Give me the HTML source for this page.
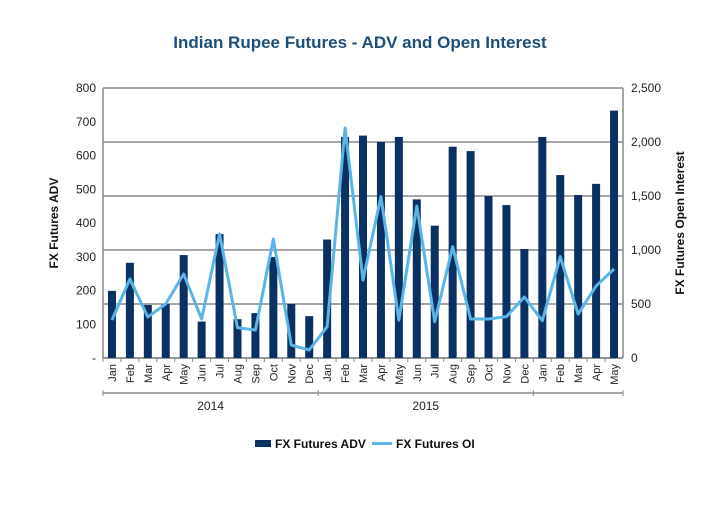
<!DOCTYPE html>
<html><head><meta charset="utf-8"><style>
body{margin:0;background:#fff;font-family:"Liberation Sans",sans-serif}
</style></head><body>
<svg id="c" width="720" height="500" xmlns="http://www.w3.org/2000/svg" font-family="Liberation Sans, sans-serif">
<text x="360" y="48" text-anchor="middle" font-size="17" font-weight="bold" fill="#1f4e79">Indian Rupee Futures - ADV and Open Interest</text>
<g id="g"></g>
</svg>
<script>
const months=["Jan","Feb","Mar","Apr","May","Jun","Jul","Aug","Sep","Oct","Nov","Dec","Jan","Feb","Mar","Apr","May","Jun","Jul","Aug","Sep","Oct","Nov","Dec","Jan","Feb","Mar","Apr","May"];
const adv=[199,282,157,160,305,108,367,115,133,299,160,124,351,655,659,640,655,470,392,626,613,480,453,323,655,542,483,516,733];
const oi=[352,731,380,500,778,361,1148,281,259,1102,120,74,290,2130,722,1494,352,1407,336,1031,361,361,383,565,345,938,407,667,824];
const leftTicks=["-","100","200","300","400","500","600","700","800"];
const rightTicks=[0,500,1000,1500,2000,2500];
const years=["2014","2015"];
const NS="http://www.w3.org/2000/svg",g=document.getElementById('g');
const X0=103,X1=623,Y0=358,Y1=88,step=(X1-X0)/months.length;
const yL=v=>Y0-(v/800)*(Y0-Y1), yR=v=>Y0-(v/2500)*(Y0-Y1), xc=i=>X0+step*(i+0.5);
function el(t,a,txt){const e=document.createElementNS(NS,t);for(const k in a)e.setAttribute(k,a[k]);if(txt!=null)e.textContent=txt;g.appendChild(e);return e;}
rightTicks.forEach(v=>{
 const l=el('line',{x1:X0,x2:X1,y1:yR(v),y2:yR(v),stroke:'#888','stroke-width':1.5});
 
 
 const t=el('text',{x:X1+8,y:yR(v)+4,'font-size':12,fill:'#222'},v.toLocaleString('en-US'));
 
 
});
leftTicks.forEach((s,i)=>{
 const t=el('text',{x:96,y:Y0-i*(Y0-Y1)/8+4,'font-size':12,fill:'#222','text-anchor':'end'},s);
 
 
});
[[X0,Y1,X0,Y0],[X1,Y1,X1,Y0],[X0,Y0,X1,Y0]].forEach(a=>{const l=el('line',{x1:a[0],y1:a[1],x2:a[2],y2:a[3],stroke:'#888','stroke-width':1.5});
 
 });
adv.forEach((v,i)=>{
 const r=el('rect',{x:xc(i)-4,y:yL(v),width:8,height:Y0-yL(v),fill:'#0a3161'});
 
 
});
const p=el('polyline',{points:oi.map((v,i)=>xc(i)+','+yR(v)).join(' '),fill:'none',stroke:'#5ab4e5','stroke-width':3,'stroke-linejoin':'round'});


months.forEach((m,i)=>{
 const t=el('text',{transform:`translate(${xc(i)+4},364) rotate(-90)`,'font-size':11,fill:'#222','text-anchor':'end'},m);
 
 
 const k=el('line',{x1:X0+step*i,x2:X0+step*i,y1:Y0,y2:Y0+4,stroke:'#888'});
 
 
});
const yl=el('line',{x1:X0,x2:X1,y1:393,y2:393,stroke:'#888','stroke-width':1.5});


[0,12,24,29].forEach(i=>{const k=el('line',{x1:X0+step*i,x2:X0+step*i,y1:390,y2:396,stroke:'#888'});
 
 });
years.forEach((y,j)=>{
 const t=el('text',{x:X0+step*(j*12+6),y:410,'font-size':12,fill:'#222','text-anchor':'middle'},y);
 
 
});
const a1=el('text',{transform:'translate(58,223) rotate(-90)','font-size':12,'font-weight':'bold','text-anchor':'middle',fill:'#111'},'FX Futures ADV');


const a2=el('text',{transform:'translate(684,223) rotate(-90)','font-size':12,'font-weight':'bold','text-anchor':'middle',fill:'#111'},'FX Futures Open Interest');


const lb=el('rect',{x:255,y:440,width:16,height:7,fill:'#0a3161'});


const lt=el('text',{x:275,y:448,'font-size':12,'font-weight':'bold',fill:'#111'},'FX Futures ADV');


const ll=el('line',{x1:372,x2:392,y1:443.5,y2:443.5,stroke:'#5ab4e5','stroke-width':3});


const lt2=el('text',{x:396,y:448,'font-size':12,'font-weight':'bold',fill:'#111'},'FX Futures OI');


</script>
</body></html>
